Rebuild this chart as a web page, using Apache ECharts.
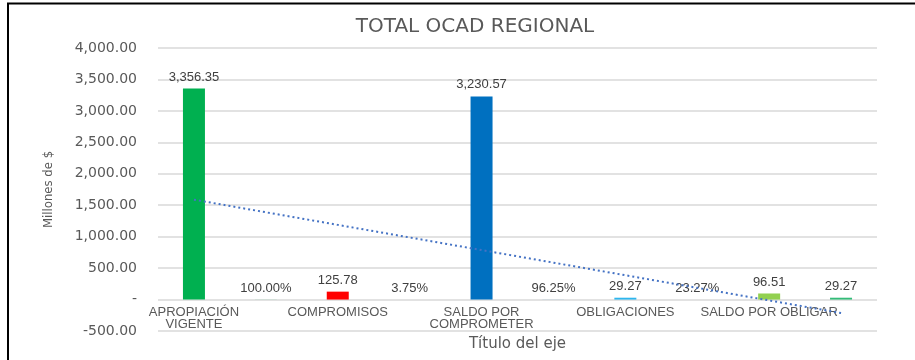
<!DOCTYPE html>
<html>
<head>
<meta charset="utf-8">
<title>TOTAL OCAD REGIONAL</title>
<script src="https://cdn.jsdelivr.net/npm/echarts@6/dist/echarts.min.js"></script>
<style>
  html, body { margin: 0; padding: 0; background: #ffffff; }
  #chart { width: 915px; height: 360px; }
</style>
</head>
<body>
<div id="chart"></div>
<script>
// Category slots: every labelled concept is followed by its share slot
const categories = [
  'APROPIACIÓN\nVIGENTE', '',
  'COMPROMISOS', '',
  'SALDO POR\nCOMPROMETER', '',
  'OBLIGACIONES', '',
  'SALDO POR OBLIGAR', ''
];

// Amounts in millions of pesos; share slots hold fractions (1 = 100 %)
const values = [3356.35, 1, 125.78, 0.0375, 3230.57, 0.9625, 29.27, 0.2327, 96.51, 29.27];

// Which slots are shown as a percentage
const isShare = [false, true, false, true, false, true, false, true, false, false];

// Bar fill for each slot
const barColors = ['#00B050', '#00B050', '#FF0000', '#FF0000', '#0070C0', '#0070C0',
                   '#2DB6EE', '#2DB6EE', '#92D050', '#33BC78'];

// Value axis ticks
const yMin = -500, yMax = 4000, yStep = 500;

const money = v => v.toLocaleString('en-US', { minimumFractionDigits: 2, maximumFractionDigits: 2 });

// Linear least-squares trend over all slots (x = 1..n)
function linearTrend(ys) {
  const n = ys.length;
  const xs = ys.map((_, i) => i + 1);
  const mx = xs.reduce((a, b) => a + b, 0) / n;
  const my = ys.reduce((a, b) => a + b, 0) / n;
  let sxy = 0, sxx = 0;
  for (let i = 0; i < n; i++) {
    sxy += (xs[i] - mx) * (ys[i] - my);
    sxx += (xs[i] - mx) * (xs[i] - mx);
  }
  const slope = sxy / sxx;
  return xs.map(x => my + slope * (x - mx));
}
const trend = linearTrend(values);

const chart = echarts.init(document.getElementById('chart'), null, { renderer: 'canvas' });

const option = {
  animation: false,
  backgroundColor: '#ffffff',
  title: {
    text: 'TOTAL OCAD REGIONAL',
    left: 470,
    textAlign: 'center',
    top: 12,
    textStyle: { fontFamily: 'DejaVu Sans', fontSize: 20, fontWeight: 'normal', color: '#595959' }
  },
  grid: { left: 158, right: 38, top: 48, bottom: 29, outerBoundsMode: 'none' },
  xAxis: {
    type: 'category',
    data: categories,
    name: 'Título del eje',
    nameLocation: 'middle',
    nameGap: 3,
    nameTextStyle: { fontFamily: 'DejaVu Sans', fontSize: 15, color: '#595959' },
    axisLine: { show: false, onZero: false },
    axisTick: { show: false },
    axisLabel: {
      interval: 0,
      // category names sit just under the zero line, inside the negative band
      margin: -25,
      fontFamily: 'Liberation Sans',
      fontSize: 13,
      lineHeight: 12,
      color: '#595959'
    }
  },
  yAxis: {
    type: 'value',
    min: yMin,
    max: yMax,
    interval: yStep,
    name: 'Millones de $',
    nameLocation: 'middle',
    nameGap: 103,
    nameRotate: 90,
    nameTextStyle: { fontFamily: '"DejaVu Sans Condensed", "Liberation Sans"', fontSize: 13, color: '#595959' },
    axisLine: { show: false },
    axisTick: { show: false },
    splitLine: { lineStyle: { color: '#e2e2e2', width: 2 } },
    axisLabel: {
      margin: 21,
      fontFamily: 'DejaVu Sans',
      fontSize: 14,
      color: '#595959',
      formatter: v => (v === 0 ? '-' : money(v))
    }
  },
  series: [
    {
      type: 'bar',
      barWidth: 22,
      data: values.map((v, i) => ({ value: v, itemStyle: { color: barColors[i] } })),
      label: {
        show: true,
        position: 'top',
        distance: 5,
        fontFamily: 'Liberation Sans',
        fontSize: 13,
        color: '#404040',
        formatter: p => (isShare[p.dataIndex] ? (p.value * 100).toFixed(2) + '%' : money(p.value))
      }
    },
    {
      type: 'line',
      data: trend,
      symbol: 'none',
      silent: true,
      z: 5,
      lineStyle: { color: '#4472C4', width: 2, type: [2, 3] }
    }
  ],
  graphic: [
    { type: 'line', shape: { x1: 7, y1: 3.5, x2: 915, y2: 3.5 }, style: { stroke: '#000000', lineWidth: 2 } },
    { type: 'line', shape: { x1: 8, y1: 3, x2: 8, y2: 360 }, style: { stroke: '#000000', lineWidth: 2 } }
  ]
};

chart.setOption(option);
</script>
</body>
</html>
